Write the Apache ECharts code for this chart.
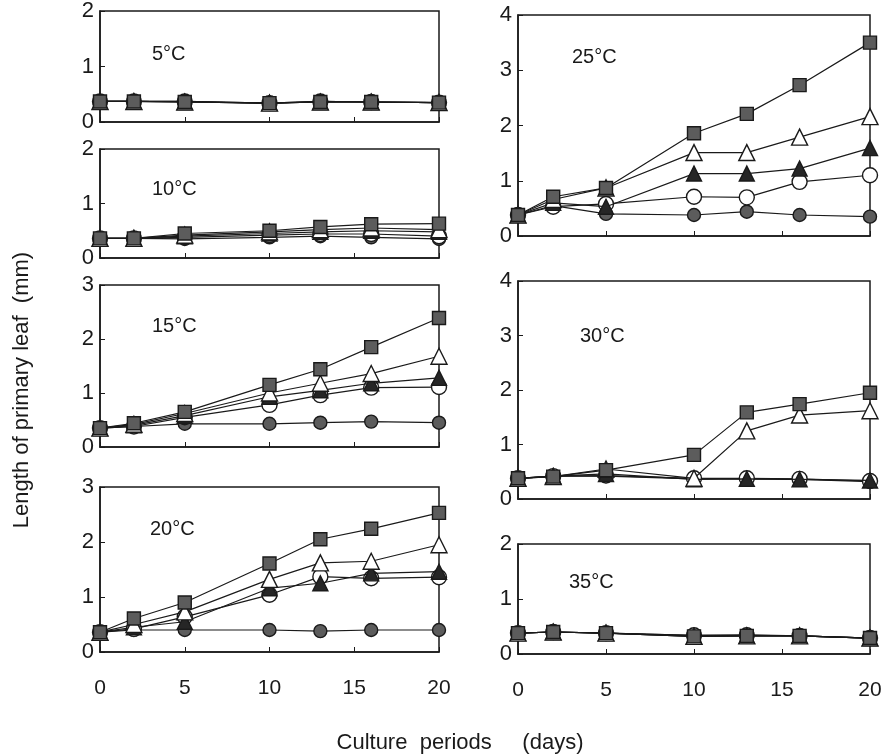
<!DOCTYPE html>
<html>
<head>
<meta charset="utf-8">
<script src="https://cdn.jsdelivr.net/npm/echarts@6/dist/echarts.min.js"></script>
<style>
  html, body { margin: 0; padding: 0; background: #fff; }
  #chart { width: 891px; height: 754px; }
</style>
</head>
<body>
<div id="chart"></div>
<script>
// culture days (x)
const days = [0, 2, 5, 10, 13, 16, 20];

// 5°C
const t5_sq = [0.37, 0.37, 0.36, 0.34, 0.36, 0.36, 0.35];
const t5_ot = [0.37, 0.37, 0.36, 0.34, 0.36, 0.36, 0.35];
const t5_ft = [0.37, 0.37, 0.36, 0.34, 0.36, 0.36, 0.35];
const t5_oc = [0.37, 0.37, 0.37, 0.34, 0.37, 0.36, 0.35];
const t5_fc = [0.37, 0.37, 0.37, 0.34, 0.37, 0.36, 0.35];
// 10°C
const t10_sq = [0.36, 0.36, 0.45, 0.50, 0.57, 0.62, 0.63];
const t10_ot = [0.36, 0.36, 0.42, 0.48, 0.52, 0.55, 0.52];
const t10_ft = [0.36, 0.36, 0.40, 0.45, 0.48, 0.50, 0.48];
const t10_oc = [0.36, 0.36, 0.38, 0.42, 0.44, 0.44, 0.40];
const t10_fc = [0.36, 0.36, 0.35, 0.38, 0.40, 0.38, 0.35];
// 15°C
const t15_sq = [0.35, 0.44, 0.65, 1.15, 1.44, 1.85, 2.39];
const t15_ot = [0.35, 0.42, 0.62, 1.00, 1.18, 1.36, 1.68];
const t15_ft = [0.35, 0.40, 0.58, 0.93, 1.05, 1.18, 1.28];
const t15_oc = [0.35, 0.38, 0.55, 0.78, 0.96, 1.10, 1.11];
const t15_fc = [0.35, 0.38, 0.43, 0.43, 0.45, 0.47, 0.45];
// 20°C
const t20_sq = [0.36, 0.61, 0.90, 1.61, 2.05, 2.24, 2.53];
const t20_ot = [0.36, 0.50, 0.73, 1.32, 1.62, 1.65, 1.95];
const t20_ft = [0.36, 0.45, 0.55, 1.16, 1.25, 1.43, 1.46];
const t20_oc = [0.36, 0.42, 0.64, 1.04, 1.37, 1.34, 1.36];
const t20_fc = [0.36, 0.40, 0.40, 0.40, 0.38, 0.40, 0.40];
// 25°C
const t25_sq = [0.38, 0.71, 0.87, 1.86, 2.21, 2.73, 3.50];
const t25_ot = [0.38, 0.66, 0.87, 1.51, 1.51, 1.79, 2.16];
const t25_ft = [0.38, 0.60, 0.53, 1.13, 1.13, 1.22, 1.59];
const t25_oc = [0.38, 0.53, 0.58, 0.71, 0.70, 0.98, 1.10];
const t25_fc = [0.38, 0.55, 0.40, 0.38, 0.44, 0.38, 0.35];
// 30°C
const t30_sq = [0.38, 0.41, 0.53, 0.81, 1.59, 1.74, 1.95];
const t30_ot = [0.38, 0.41, 0.55, 0.38, 1.25, 1.54, 1.62];
const t30_ft = [0.38, 0.42, 0.46, 0.36, 0.37, 0.36, 0.34];
const t30_oc = [0.38, 0.42, 0.43, 0.38, 0.38, 0.37, 0.33];
const t30_fc = [0.38, 0.42, 0.42, 0.37, 0.37, 0.36, 0.32];
// 35°C
const t35_sq = [0.38, 0.40, 0.38, 0.32, 0.33, 0.33, 0.29];
const t35_ot = [0.38, 0.40, 0.38, 0.32, 0.33, 0.33, 0.29];
const t35_ft = [0.38, 0.40, 0.38, 0.32, 0.33, 0.33, 0.29];
const t35_oc = [0.38, 0.40, 0.38, 0.34, 0.34, 0.33, 0.29];
const t35_fc = [0.38, 0.40, 0.38, 0.34, 0.35, 0.33, 0.29];

const yTicksMax = [2, 2, 3, 3, 4, 4, 2];
const panelNames = ['5°C', '10°C', '15°C', '20°C', '25°C', '30°C', '35°C'];

const panelData = [
  [t5_fc, t5_oc, t5_ft, t5_ot, t5_sq],
  [t10_fc, t10_oc, t10_ft, t10_ot, t10_sq],
  [t15_fc, t15_oc, t15_ft, t15_ot, t15_sq],
  [t20_fc, t20_oc, t20_ft, t20_ot, t20_sq],
  [t25_fc, t25_oc, t25_ft, t25_ot, t25_sq],
  [t30_fc, t30_oc, t30_ft, t30_ot, t30_sq],
  [t35_fc, t35_oc, t35_ft, t35_ot, t35_sq]
];

// panel boxes (px) and where the temperature label goes
const boxes = [
  { left: 100, top: 11, width: 339, height: 111, lx: 152, ly: 55 },
  { left: 100, top: 149, width: 339, height: 109, lx: 152, ly: 190 },
  { left: 100, top: 285, width: 339, height: 162, lx: 152, ly: 327 },
  { left: 100, top: 487, width: 339, height: 165, lx: 150, ly: 530 },
  { left: 518, top: 15, width: 352, height: 221, lx: 572, ly: 58 },
  { left: 518, top: 281, width: 352, height: 218, lx: 580, ly: 337 },
  { left: 518, top: 544, width: 352, height: 110, lx: 569, ly: 583 }
];
const bottomPanels = [3, 6];

const FONT = "'Liberation Sans', Arial, sans-serif";
const INK = '#1a1a1a';

const markers = [
  { symbol: 'circle', size: 13, color: '#5c5c5c' },   // filled circle
  { symbol: 'circle', size: 15, color: '#ffffff' },   // open circle
  { symbol: 'triangle', size: 15, color: '#262626' }, // filled triangle
  { symbol: 'triangle', size: 16, color: '#ffffff' }, // open triangle
  { symbol: 'rect', size: 13, color: '#5c5c5c' }      // filled square
];

const grid = [], xAxis = [], yAxis = [], series = [], graphic = [];

boxes.forEach((b, i) => {
  grid.push({
    left: b.left, top: b.top, width: b.width, height: b.height,
    show: true, borderColor: INK, borderWidth: 1.5, backgroundColor: 'transparent'
  });
  const showX = bottomPanels.includes(i);
  xAxis.push({
    type: 'value', gridIndex: i, min: 0, max: 20, interval: 5,
    axisLine: { show: true, lineStyle: { color: INK, width: 1.5 } },
    axisTick: { show: true, inside: true, length: 5, lineStyle: { color: INK } },
    splitLine: { show: false },
    axisLabel: { show: showX, fontSize: 21, color: INK, fontFamily: FONT, margin: 26 }
  });
  yAxis.push({
    type: 'value', gridIndex: i, min: 0, max: yTicksMax[i], interval: 1,
    axisLine: { show: true, lineStyle: { color: INK, width: 1.5 } },
    axisTick: { show: true, inside: true, length: 5, lineStyle: { color: INK } },
    splitLine: { show: false },
    axisLabel: { fontSize: 22, color: INK, fontFamily: FONT, margin: 6 }
  });
  panelData[i].forEach((vals, k) => {
    const m = markers[k];
    series.push({
      type: 'line', xAxisIndex: i, yAxisIndex: i,
      data: days.map((d, j) => [d, vals[j]]),
      symbol: m.symbol, symbolSize: m.size, showSymbol: true,
      lineStyle: { color: INK, width: 1.2 },
      itemStyle: { color: m.color, borderColor: INK, borderWidth: 1.4 },
      z: 2 + k, animation: false, silent: true
    });
  });
  graphic.push({
    type: 'text', left: b.lx, top: b.ly - 11,
    style: { text: panelNames[i], fontSize: 20, fill: INK, fontFamily: FONT }
  });
});

graphic.push({
  type: 'text', x: 22, y: 390, rotation: Math.PI / 2,
  style: { text: 'Length of primary leaf  (mm)', fontSize: 22, fill: INK, fontFamily: FONT,
    textAlign: 'center', textVerticalAlign: 'middle' }
});
graphic.push({
  type: 'text', x: 460, y: 743,
  style: { text: 'Culture  periods     (days)', fontSize: 22, fill: INK, fontFamily: FONT,
    textAlign: 'center', textVerticalAlign: 'middle' }
});

const myChart = echarts.init(document.getElementById('chart'));
myChart.setOption({
  animation: false,
  backgroundColor: '#fff',
  grid, xAxis, yAxis, series, graphic
});
</script>
</body>
</html>
